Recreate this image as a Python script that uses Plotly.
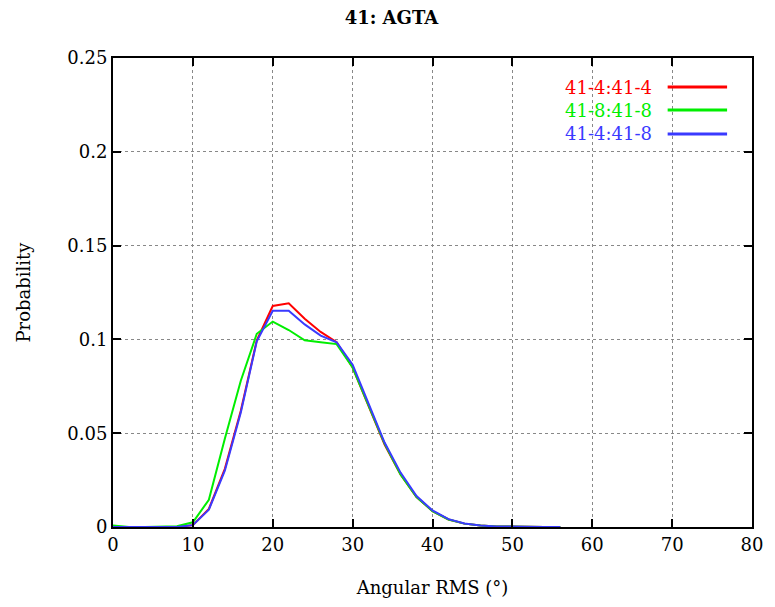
import plotly.graph_objects as go

x_vals = list(range(0, 58, 2))

red_41_4_41_4 = [0, 0, 0, 0, 0, 0.001, 0.0096, 0.031, 0.062, 0.0995, 0.1178, 0.1192, 0.111, 0.104,
                 0.0985, 0.085, 0.065, 0.044, 0.028, 0.016, 0.0085, 0.004, 0.0018, 0.0008, 0.0003,
                 0.0001, 0, 0, 0]
green_41_8_41_8 = [0.0008, 0, 0, 0, 0.0004, 0.0025, 0.0145, 0.047, 0.078, 0.103, 0.1095, 0.105, 0.0995,
                   0.0985, 0.0975, 0.085, 0.065, 0.0445, 0.028, 0.016, 0.0085, 0.004, 0.0018, 0.0008,
                   0.0003, 0.0001, 0, 0, 0]
blue_41_4_41_8 = [0, 0, 0, 0, 0, 0.001, 0.0092, 0.030, 0.061, 0.099, 0.1153, 0.1153, 0.108, 0.102,
                  0.0985, 0.0865, 0.066, 0.045, 0.029, 0.0165, 0.0088, 0.0042, 0.0019, 0.0008, 0.0003,
                  0.0001, 0, 0, 0]

series_names = ["41-4:41-4", "41-8:41-8", "41-4:41-8"]
series_values = [red_41_4_41_4, green_41_8_41_8, blue_41_4_41_8]
colors = ["#ff0000", "#00ee00", "#3a3aff"]

x_ticks = [0, 10, 20, 30, 40, 50, 60, 70, 80]
y_ticks = [0, 0.05, 0.1, 0.15, 0.2, 0.25]
y_tick_labels = ["0", "0.05", "0.1", "0.15", "0.2", "0.25"]

font_family = "DejaVu Serif, Liberation Serif, serif"

fig = go.Figure()
for name, vals, col in zip(series_names, series_values, colors):
    fig.add_trace(go.Scatter(x=x_vals, y=vals, mode="lines", name=name,
                             line=dict(color=col, width=2), showlegend=False))

# legend built as text + key line (text on left, key on right)
legend_y = [0.938, 0.889, 0.838]
for name, col, ly in zip(series_names, colors, legend_y):
    fig.add_annotation(x=0.846, y=ly, xref="paper", yref="paper", text=name, showarrow=False,
                       xanchor="right", yanchor="middle",
                       font=dict(family=font_family, size=18, color=col))
    fig.add_shape(type="line", xref="paper", yref="paper", x0=0.868, x1=0.961, y0=ly, y1=ly,
                  line=dict(color=col, width=3))

axis_common = dict(
    showline=True, linecolor="black", linewidth=2, mirror="allticks",
    ticks="inside", ticklen=8, tickwidth=2, tickcolor="black",
    showgrid=True, gridcolor="#888888", griddash="3px,3px", gridwidth=1,
    zeroline=False, tickfont=dict(family=font_family, size=18, color="black"),
)

fig.update_layout(
    width=767, height=599,
    margin=dict(l=105, r=18, t=50, b=80),
    paper_bgcolor="white", plot_bgcolor="white",
    title=dict(text="<b>41: AGTA</b>", x=0.5, xanchor="center", y=0.983, yanchor="middle",
               font=dict(family=font_family, size=18, color="black")),
    xaxis=dict(range=[0, 80], tickvals=x_ticks,
               title=dict(text="Angular RMS (°)", font=dict(family=font_family, size=18, color="black"),
                          standoff=28),
               **axis_common),
    yaxis=dict(range=[0, 0.25], tickvals=y_ticks, ticktext=y_tick_labels,
               title=dict(text="Probability", font=dict(family=font_family, size=18, color="black"),
                          standoff=32),
               **axis_common),
)

fig.write_html("out.html")
